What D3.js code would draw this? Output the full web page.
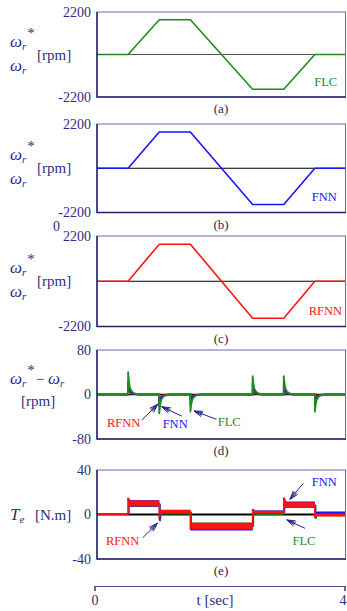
<!DOCTYPE html>
<html>
<head>
<meta charset="utf-8">
<script src="https://cdn.jsdelivr.net/npm/d3@7"></script>
<style>
  body { margin: 0; background: #fff; }
  svg { display: block; font-family: "Liberation Serif", "Times New Roman", serif; }
</style>
</head>
<body>
<svg id="chart" width="347" height="611"></svg>
<script>
// speed command / response (rpm), same profile for all three controllers
const speedTimes = [0, 0.5, 1.0, 1.5, 2.5, 3.0, 3.5, 4.0];
const speedValues = [0, 0, 1800, 1800, -1800, -1800, 0, 0];

// speed tracking error (rpm): spike at each acceleration change
const spikeTimes = [0.5, 1.0, 1.5, 2.5, 3.0, 3.5];
const errFLC = [40, -34, -31, 33, 33, -31];
const errFNN = [22, -21, -18, 21, 20, -19];
const errRFNN = [11, -10, -8, 9, 9, -8];
const decayTimes = [0, 0.015, 0.03, 0.055, 0.085, 0.12, 0.17];
const decayShape = [1, 0.55, 0.3, 0.15, 0.07, 0.03, 0];

// electromagnetic torque (N.m), one level per interval
const torqueTimes = [0, 0.5, 1.0, 1.5, 2.5, 3.0, 3.5, 4.0];
const torqueRFNN = [0.3, 10, 2.5, -10.5, 2, 8.5, -0.5];
const torqueFLC = [0.3, 9.5, 2, -10.5, 1.5, 8.5, 0];
const torqueFNN = [0.3, 10, 2.5, -11, 2, 9, 0.8];
const rippleRFNN = [0.8, 2.6, 1.6, 3, 1.4, 2.4, 1.3];
const rippleFLC = [0.8, 2.8, 2, 3.2, 1.8, 2.6, 1.6];
const rippleFNN = [0.8, 2.7, 1.8, 3.4, 1.6, 2.6, 1.8];
const kickRFNN = [0, 15, -3, -13, 5, 15, -3];
const kickFLC = [0, 14, -6, -14, 4, 14, -4];
const kickFNN = [0, 14, -5, -13, 5, 15, -3];

const timeTicks = [0, 4];

const navy = "#2d2d85";
const green = "#1f8a1f";
const blue = "#1414ff";
const red = "#ff1212";

const svg = d3.select("#chart");
const x = d3.scaleLinear().domain([0, 4]).range([97, 346]);

function makePanel(top, bottom, domain, ticks) {
  const y = d3.scaleLinear().domain(domain).range([bottom, top]);
  const g = svg.append("g");

  g.append("g")
    .attr("transform", `translate(${x(0)},0)`)
    .call(d3.axisLeft(y).tickValues(ticks).tickSize(0).tickPadding(6).tickFormat((d) => String(d)))
    .call((a) => a.select(".domain").remove())
    .selectAll("text")
    .attr("fill", navy)
    .style("font-size", "14px")
    .style("font-family", "Liberation Serif, serif");

  return { g, y, top, bottom };
}

function drawFrame(p) {
  p.g.append("rect")
    .attr("x", x(0))
    .attr("y", p.top)
    .attr("width", x(4) - x(0) - 0.5)
    .attr("height", p.bottom - p.top)
    .attr("fill", "none")
    .attr("stroke", "#6a6ab4")
    .attr("stroke-width", 1);

  p.g.append("path")
    .attr("d", `M${x(0)},${p.top}V${p.bottom}H${x(4)}`)
    .attr("fill", "none")
    .attr("stroke", "#23236a")
    .attr("stroke-width", 1.5);
}

function zeroLine(p, color, width) {
  p.g.append("line")
    .attr("x1", x(0)).attr("x2", x(4))
    .attr("y1", p.y(0)).attr("y2", p.y(0))
    .attr("stroke", color)
    .attr("stroke-width", width);
}

function panelLetter(p, letter) {
  svg.append("text")
    .attr("x", 221)
    .attr("y", p.bottom + 16)
    .attr("text-anchor", "middle")
    .attr("fill", "#2a2a4a")
    .style("font-size", "13px")
    .text(`(${letter})`);
}

function seriesLabel(p, t, v, text, color) {
  p.g.append("text")
    .attr("x", x(t))
    .attr("y", p.y(v))
    .attr("fill", color)
    .style("font-size", "12.5px")
    .text(text);
}

function arrow(p, t1, v1, t2, v2) {
  const x1 = x(t1), y1 = p.y(v1), x2 = x(t2), y2 = p.y(v2);
  const ang = Math.atan2(y2 - y1, x2 - x1);
  const g = p.g.append("g").attr("stroke", "#22228a").attr("stroke-width", 1).attr("fill", "none");
  g.append("line").attr("x1", x1).attr("y1", y1).attr("x2", x2).attr("y2", y2);
  [-0.32, -0.14, 0.14, 0.32].forEach((da) => {
    g.append("line")
      .attr("x1", x2).attr("y1", y2)
      .attr("x2", x2 - 9 * Math.cos(ang + da))
      .attr("y2", y2 - 9 * Math.sin(ang + da));
  });
}

// omega_r* / [rpm] / omega_r label group used on the speed panels
function omegaLabel(p) {
  const z = p.y(0);
  const t1 = svg.append("text").attr("x", 10).attr("y", z - 8).attr("fill", navy);
  t1.append("tspan").style("font-size", "17px").style("font-style", "italic").text("ω");
  t1.append("tspan").attr("dy", 3).style("font-size", "11px").style("font-style", "italic").text("r");
  t1.append("tspan").attr("dy", -12).attr("dx", 1).style("font-size", "15px").text("*");

  svg.append("text").attr("x", 37).attr("y", z + 5).attr("fill", navy)
    .style("font-size", "15px").text("[rpm]");

  const t2 = svg.append("text").attr("x", 10).attr("y", z + 16).attr("fill", navy);
  t2.append("tspan").style("font-size", "17px").style("font-style", "italic").text("ω");
  t2.append("tspan").attr("dy", 3).style("font-size", "11px").style("font-style", "italic").text("r");
}

const speedLine = (p) => d3.line()
  .x((d) => x(d[0]))
  .y((d) => p.y(d[1]));
const speedPoints = speedTimes.map((t, i) => [t, speedValues[i]]);

// ---- panels (a) (b) (c): speed responses
const speedPanels = [
  { top: 12, bottom: 97, color: green, name: "FLC", letter: "a", labelT: 3.49, zero: "#555" },
  { top: 124, bottom: 212.5, color: blue, name: "FNN", letter: "b", labelT: 3.45, zero: "#000" },
  { top: 236, bottom: 326.5, color: red, name: "RFNN", letter: "c", labelT: 3.4, zero: "#000" },
];

speedPanels.forEach((s) => {
  const p = makePanel(s.top, s.bottom, [-2200, 2200], [-2200, 2200]);
  zeroLine(p, s.zero, 1);
  p.g.append("path")
    .datum(speedPoints)
    .attr("fill", "none")
    .attr("stroke", s.color)
    .attr("stroke-width", 1.6)
    .attr("d", speedLine(p));
  seriesLabel(p, s.labelT, -1620, s.name, s.color);
  drawFrame(p);
  omegaLabel(p);
  panelLetter(p, s.letter);
});

svg.append("text").attr("x", 53).attr("y", 231).attr("fill", navy)
  .style("font-size", "14px").text("0");

// ---- panel (d): speed error
const pd = makePanel(350, 439, [-80, 80], [-80, 0, 80]);

function errorSeries(peaks) {
  const pts = [[0, 0]];
  spikeTimes.forEach((t, i) => {
    pts.push([t, 0]);
    decayTimes.forEach((dt, j) => pts.push([t + dt, peaks[i] * decayShape[j]]));
  });
  pts.push([4, 0]);
  return pts;
}

zeroLine(pd, "#000", 1.5);
[[errRFNN, red, 1.6], [errFNN, blue, 1.8], [errFLC, green, 1.8]].forEach(([vals, color, w]) => {
  pd.g.append("path")
    .datum(errorSeries(vals))
    .attr("fill", "none")
    .attr("stroke", color)
    .attr("stroke-width", w)
    .attr("stroke-linejoin", "round")
    .attr("d", d3.line().x((d) => x(d[0])).y((d) => pd.y(d[1])));
});

seriesLabel(pd, 0.16, -58.5, "RFNN", red);
seriesLabel(pd, 1.055, -60, "FNN", blue);
seriesLabel(pd, 1.94, -56.6, "FLC", green);
arrow(pd, 0.72, -46, 0.975, -17.6);
arrow(pd, 1.36, -38.7, 1.04, -22);
arrow(pd, 1.92, -44.6, 1.56, -29.7);
drawFrame(pd);
panelLetter(pd, "d");

{
  const z = pd.y(0);
  const t1 = svg.append("text").attr("x", 10).attr("y", z - 11).attr("fill", navy);
  t1.append("tspan").style("font-size", "17px").style("font-style", "italic").text("ω");
  t1.append("tspan").attr("dy", 3).style("font-size", "11px").style("font-style", "italic").text("r");
  t1.append("tspan").attr("dy", -12).attr("dx", 1).style("font-size", "15px").text("*");
  t1.append("tspan").attr("dy", 9).attr("dx", 1).style("font-size", "15px").text("−  ");
  t1.append("tspan").style("font-size", "17px").style("font-style", "italic").text("ω");
  t1.append("tspan").attr("dy", 3).style("font-size", "11px").style("font-style", "italic").text("r");
  svg.append("text").attr("x", 21).attr("y", z + 11).attr("fill", navy)
    .style("font-size", "15px").text("[rpm]");
}

// ---- panel (e): torque
const pe = makePanel(470, 559, [-40, 40], [-40, 0, 40]);

function stepPoints(levels, ripple) {
  const pts = levels.map((v, i) => ({ t: torqueTimes[i], v, r: ripple[i] }));
  pts.push({ t: torqueTimes[torqueTimes.length - 1], v: levels[levels.length - 1], r: ripple[ripple.length - 1] });
  return pts;
}

const band = d3.area()
  .x((d) => x(d.t))
  .y0((d) => pe.y(d.v - d.r))
  .y1((d) => pe.y(d.v + d.r))
  .curve(d3.curveStepAfter);

zeroLine(pe, "#000", 2);

[
  [torqueFLC, rippleFLC, kickFLC, green, 0.012],
  [torqueFNN, rippleFNN, kickFNN, blue, 0.006],
  [torqueRFNN, rippleRFNN, kickRFNN, red, 0],
].forEach(([levels, ripple, kicks, color, lag]) => {
  pe.g.append("path")
    .datum(stepPoints(levels, ripple))
    .attr("fill", color)
    .attr("d", band);

  kicks.forEach((k, i) => {
    if (i === 0) return;
    const t = torqueTimes[i] + lag;
    pe.g.append("line")
      .attr("x1", x(t)).attr("x2", x(t))
      .attr("y1", pe.y(levels[i - 1])).attr("y2", pe.y(k))
      .attr("stroke", color).attr("stroke-width", 1.6);
    pe.g.append("line")
      .attr("x1", x(t)).attr("x2", x(t + 0.02))
      .attr("y1", pe.y(k)).attr("y2", pe.y(levels[i]))
      .attr("stroke", color).attr("stroke-width", 1.6);
  });
});

seriesLabel(pe, 0.145, -27.4, "RFNN", red);
seriesLabel(pe, 3.45, 25.6, "FNN", blue);
seriesLabel(pe, 3.14, -27.4, "FLC", green);
arrow(pe, 0.734, -20.9, 0.969, -7.9);
arrow(pe, 3.314, 28, 3.1, 13.7);
arrow(pe, 3.34, -12.4, 3.05, -4.9);
drawFrame(pe);
panelLetter(pe, "e");

{
  const z = pe.y(0);
  const t1 = svg.append("text").attr("x", 10).attr("y", z + 5).attr("fill", navy);
  t1.append("tspan").style("font-size", "17px").style("font-style", "italic").text("T");
  t1.append("tspan").attr("dy", 3).style("font-size", "11px").style("font-style", "italic").text("e");
  svg.append("text").attr("x", 35).attr("y", z + 5).attr("fill", navy)
    .style("font-size", "15px").text("[N.m]");
}

// ---- shared time axis
const xt = d3.scaleLinear().domain([0, 4]).range([94.5, 344.5]);
svg.append("g")
  .attr("transform", "translate(0,586)")
  .call(d3.axisBottom(xt).tickValues(timeTicks).tickSize(5).tickSizeOuter(5).tickPadding(4)
    .tickFormat((d) => String(d)))
  .call((a) => a.selectAll("path, line").attr("stroke", "#4a4a8a").attr("stroke-width", 1.2))
  .call((a) => a.selectAll(".tick:last-of-type text").attr("dx", -2))
  .selectAll("text")
  .attr("fill", navy)
  .style("font-size", "14px")
  .style("font-family", "Liberation Serif, serif");

svg.append("text")
  .attr("x", 215)
  .attr("y", 605)
  .attr("text-anchor", "middle")
  .attr("fill", navy)
  .style("font-size", "15px")
  .text("t [sec]");
</script>
</body>
</html>
